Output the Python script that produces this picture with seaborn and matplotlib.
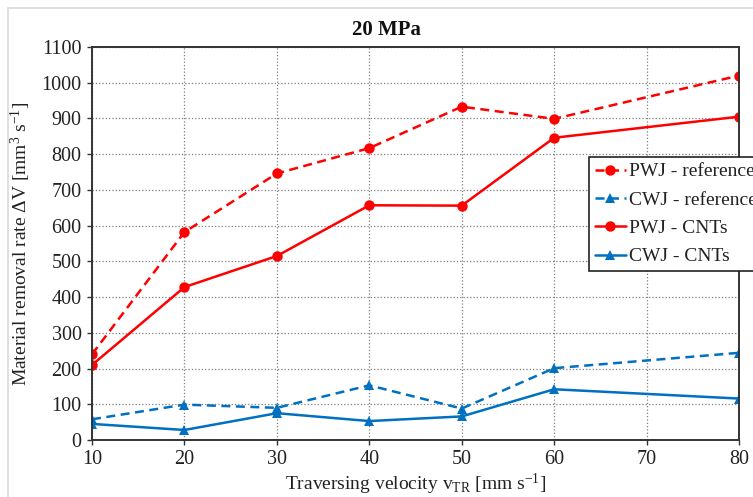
import matplotlib
matplotlib.use("Agg")
import matplotlib.pyplot as plt
from matplotlib.patches import Rectangle
import seaborn as sns
import pandas as pd

# Traversing velocity [mm/s] and material removal rate [mm^3/s]
velocity = [10, 20, 30, 40, 50, 60, 80]
pwj_reference = [240, 582, 746, 817, 933, 899, 1020]
cwj_reference = [58, 99, 90, 153, 88, 201, 244]
pwj_cnts = [210, 428, 515, 657, 656, 846, 905]
cwj_cnts = [45, 28, 75, 53, 66, 142, 116]

series_names = ["PWJ - reference", "CWJ - reference", "PWJ - CNTs", "CWJ - CNTs"]
series_values = [pwj_reference, cwj_reference, pwj_cnts, cwj_cnts]
series_colors = ["#ff0000", "#0070c0", "#ff0000", "#0070c0"]
series_styles = ["--", "--", "-", "-"]
series_markers = ["o", "^", "o", "^"]

x_ticks = [10, 20, 30, 40, 50, 60, 70, 80]
y_ticks = list(range(0, 1101, 100))

sns.set_theme(style="white")
plt.rcParams["font.family"] = ["Liberation Serif", "DejaVu Serif"]
plt.rcParams["mathtext.fontset"] = "custom"
plt.rcParams["mathtext.rm"] = "Liberation Serif"
plt.rcParams["mathtext.it"] = "Liberation Serif:italic"

fig = plt.figure(figsize=(7.53, 4.97), dpi=100)
ax = fig.add_axes([0.1222, 0.1147, 0.8592, 0.7907])

for name, vals, col, ls, mk in zip(series_names, series_values, series_colors,
                                   series_styles, series_markers):
    df = pd.DataFrame({"v": velocity, "rate": vals})
    sns.lineplot(data=df, x="v", y="rate", ax=ax, color=col, linestyle=ls,
                 marker=mk, markersize=7.5, markeredgewidth=0, linewidth=1.8,
                 label=name, dashes=False)
    ax.lines[-1].set_linestyle(ls)
    if ls == "--":
        ax.lines[-1].set_dashes([3.6, 2.2])

ax.set_xlim(10, 80)
ax.set_ylim(0, 1100)
ax.set_xticks(x_ticks)
ax.set_yticks(y_ticks)
ax.grid(True, color="#7f7f7f", linestyle=":", linewidth=0.9)
ax.set_axisbelow(True)
for sp in ax.spines.values():
    sp.set_color("#333333")
    sp.set_linewidth(1.4)
ax.tick_params(axis="both", which="major", direction="out", length=3.5,
               width=1.0, color="#333333", labelsize=14.5, labelcolor="#222222",
               pad=4, bottom=True, left=True)

ax.set_xlabel(r"Traversing velocity v$_{\mathrm{TR}}$ [mm s$^{\mathrm{-1}}$]",
              fontsize=14, color="#222222", labelpad=2)
ax.set_ylabel(r"Material removal rate ΔV [mm$^{\mathrm{3}}$ s$^{\mathrm{-1}}$]",
              fontsize=14, color="#222222", labelpad=6)

fig.text(0.513, 1 - 30 / 497, "20 MPa", ha="center", va="center",
         fontsize=15, fontweight="bold", color="#111111")

leg = ax.legend(loc="upper left", bbox_to_anchor=(589 / 753, 1 - 157 / 497),
                bbox_transform=fig.transFigure, fontsize=14, frameon=True,
                fancybox=False, framealpha=1, edgecolor="#222222",
                handlelength=1.6, handletextpad=0.15, labelspacing=0.55,
                borderpad=0.3, borderaxespad=0)
leg.get_frame().set_linewidth(1.2)
for t in leg.get_texts():
    t.set_color("#222222")

# light outer frame around the chart area
fig.patches.append(Rectangle((8 / 753, -0.2), 1.2, 1 - 8 / 497 + 0.2,
                             transform=fig.transFigure, fill=False,
                             edgecolor="#d9d9d9", linewidth=1.2))

fig.savefig("out.png", dpi=100)
